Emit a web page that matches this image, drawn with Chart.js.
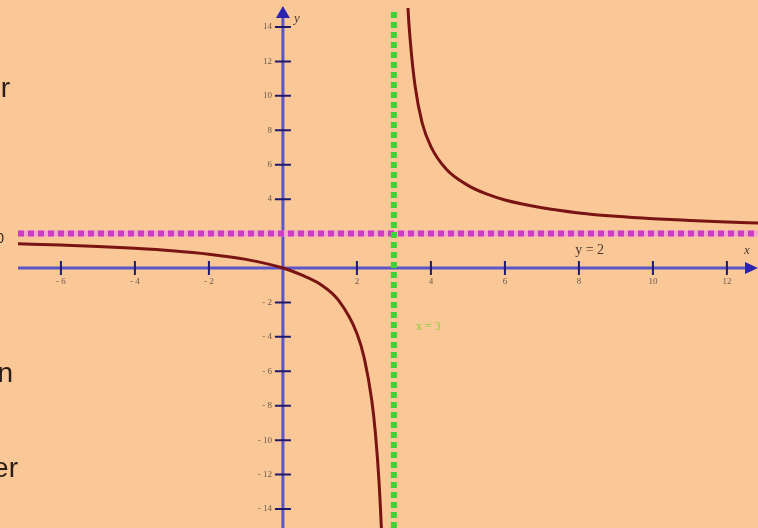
<!DOCTYPE html>
<html>
<head>
<meta charset="utf-8">
<script src="https://cdn.jsdelivr.net/npm/chart.js@4/dist/chart.umd.min.js"></script>
<style>
  html,body{margin:0;padding:0;background:#FAC896;overflow:hidden;}
  #wrap{position:relative;width:758px;height:528px;overflow:hidden;background:#FAC896;}
  canvas{position:absolute;left:0;top:0;}
  .side{position:absolute;font-family:"Liberation Sans",Arial,sans-serif;font-size:28px;color:#2a1c18;white-space:nowrap;text-align:right;}
</style>
</head>
<body>
<div id="wrap">
  <canvas id="c" width="758" height="528"></canvas>
  <div class="side" style="right:748px;top:72px;">or</div>
  <div class="side" style="right:754px;top:230px;font-size:14px;">0</div>
  <div class="side" style="right:745px;top:357px;">on</div>
  <div class="side" style="right:740px;top:452px;">der</div>
</div>
<script>
// Curve y vs x (two branches around the vertical asymptote)
const leftX  = [-7.16, -6, -5, -4, -3, -2, -1, 0, 0.5, 1, 1.5, 2, 2.2, 2.4, 2.5, 2.6, 2.68, 2.72];
const leftY  = [1.41, 1.33, 1.25, 1.14, 1.0, 0.8, 0.5, 0, -0.4, -0.93, -1.87, -3.8, -5.25, -7.67, -9.6, -12.5, -16.1, -18.7];
const rightX = [3.3, 3.38, 3.45, 3.57, 3.76, 4, 4.43, 5, 5.5, 6, 7, 8, 9, 10, 11, 12, 12.84];
const rightY = [20, 15.1, 13, 10.6, 8.45, 7.05, 5.7, 4.8, 4.3, 3.95, 3.5, 3.2, 3.0, 2.86, 2.76, 2.67, 2.61];
// Asymptotes
const hAsymY = 2;
const vAsymX = 3;
// Axis ticks
const xTicks = [-6, -4, -2, 2, 4, 6, 8, 10, 12];
const yTicks = [14, 12, 10, 8, 6, 4, 2, -2, -4, -6, -8, -10, -12, -14];
// Axis ranges
const xMin = -7.16, xMax = 12.84, yMin = -15.1, yMax = 15.1;

const pts = (xs, ys) => xs.map((x, i) => ({x, y: ys[i]}));

const axesPlugin = {
  id: 'axesPlugin',
  beforeDatasetsDraw(chart) {
    const ctx = chart.ctx, xs = chart.scales.x, ys = chart.scales.y;
    const x0 = xs.getPixelForValue(0), y0 = ys.getPixelForValue(0);
    ctx.save();
    // axis lines
    ctx.strokeStyle = '#5a55c8';
    ctx.lineWidth = 3;
    ctx.beginPath();
    ctx.moveTo(18, y0); ctx.lineTo(748, y0);
    ctx.moveTo(x0, 528); ctx.lineTo(x0, 16);
    ctx.stroke();
    // arrows
    ctx.fillStyle = '#2a24b0';
    ctx.beginPath();
    ctx.moveTo(758, y0); ctx.lineTo(745, y0 - 6); ctx.lineTo(745, y0 + 6); ctx.closePath(); ctx.fill();
    ctx.beginPath();
    ctx.moveTo(x0, 6); ctx.lineTo(x0 - 7, 18); ctx.lineTo(x0 + 7, 18); ctx.closePath(); ctx.fill();
    // ticks
    ctx.strokeStyle = '#1e1a70';
    ctx.lineWidth = 2;
    ctx.beginPath();
    xTicks.forEach(v => { const p = xs.getPixelForValue(v); ctx.moveTo(p, y0 - 7); ctx.lineTo(p, y0 + 7); });
    yTicks.forEach(v => { const p = ys.getPixelForValue(v); ctx.moveTo(x0 - 8, p); ctx.lineTo(x0 + 8, p); });
    ctx.stroke();
    // tick labels
    ctx.fillStyle = '#6a5a50';
    ctx.font = '9px "Liberation Serif", serif';
    ctx.textAlign = 'center'; ctx.textBaseline = 'top';
    xTicks.forEach(v => { ctx.fillText(String(v).replace('-', '- '), xs.getPixelForValue(v), y0 + 9); });
    ctx.textAlign = 'right'; ctx.textBaseline = 'middle';
    yTicks.forEach(v => { ctx.fillText(String(v).replace('-', '- '), x0 - 11, ys.getPixelForValue(v)); });
    ctx.restore();
  },
  afterDatasetsDraw(chart) {
    const ctx = chart.ctx, xs = chart.scales.x, ys = chart.scales.y;
    ctx.save();
    ctx.font = 'italic 13px "Liberation Serif", serif';
    ctx.fillStyle = '#4a3a30';
    ctx.textAlign = 'left'; ctx.textBaseline = 'alphabetic';
    ctx.fillText('y', xs.getPixelForValue(0) + 11, 22);
    ctx.fillText('x', 744, 254);
    ctx.font = '14px "Liberation Serif", serif';
    ctx.fillText('y = 2', xs.getPixelForValue(7.9), ys.getPixelForValue(hAsymY) + 20);
    ctx.fillStyle = '#8ccf3a';
    ctx.font = '12px "Liberation Serif", serif';
    ctx.fillText('x = 3', xs.getPixelForValue(vAsymX) + 22, 330);
    ctx.restore();
  }
};

new Chart(document.getElementById('c'), {
  type: 'scatter',
  data: {
    datasets: [
      { data: pts([xMin, xMax], [hAsymY, hAsymY]), showLine: true, borderColor: '#f2a6c8', borderWidth: 6, pointRadius: 0, order: 5 },
      { data: pts([xMin, xMax], [hAsymY, hAsymY]), showLine: true, borderColor: '#cc3cc4', borderWidth: 6, borderDash: [6, 4], pointRadius: 0, order: 4 },
      { data: pts([vAsymX, vAsymX], [yMin, yMax]), showLine: true, borderColor: '#3ed23a', borderWidth: 6, borderDash: [6, 4], pointRadius: 0, order: 3 },
      { data: pts(leftX, leftY), showLine: true, borderColor: '#7a1414', borderWidth: 3, pointRadius: 0, cubicInterpolationMode: 'monotone', order: 1 },
      { data: pts(rightX, rightY), showLine: true, borderColor: '#7a1414', borderWidth: 3, pointRadius: 0, cubicInterpolationMode: 'monotone', order: 1 }
    ]
  },
  options: {
    responsive: false,
    animation: false,
    layout: { padding: { left: 18, top: 8, right: 0, bottom: 0 } },
    plugins: { legend: { display: false }, tooltip: { enabled: false } },
    scales: {
      x: { type: 'linear', min: xMin, max: xMax, display: false },
      y: { type: 'linear', min: yMin, max: yMax, display: false }
    }
  },
  plugins: [axesPlugin]
});
</script>
</body>
</html>
